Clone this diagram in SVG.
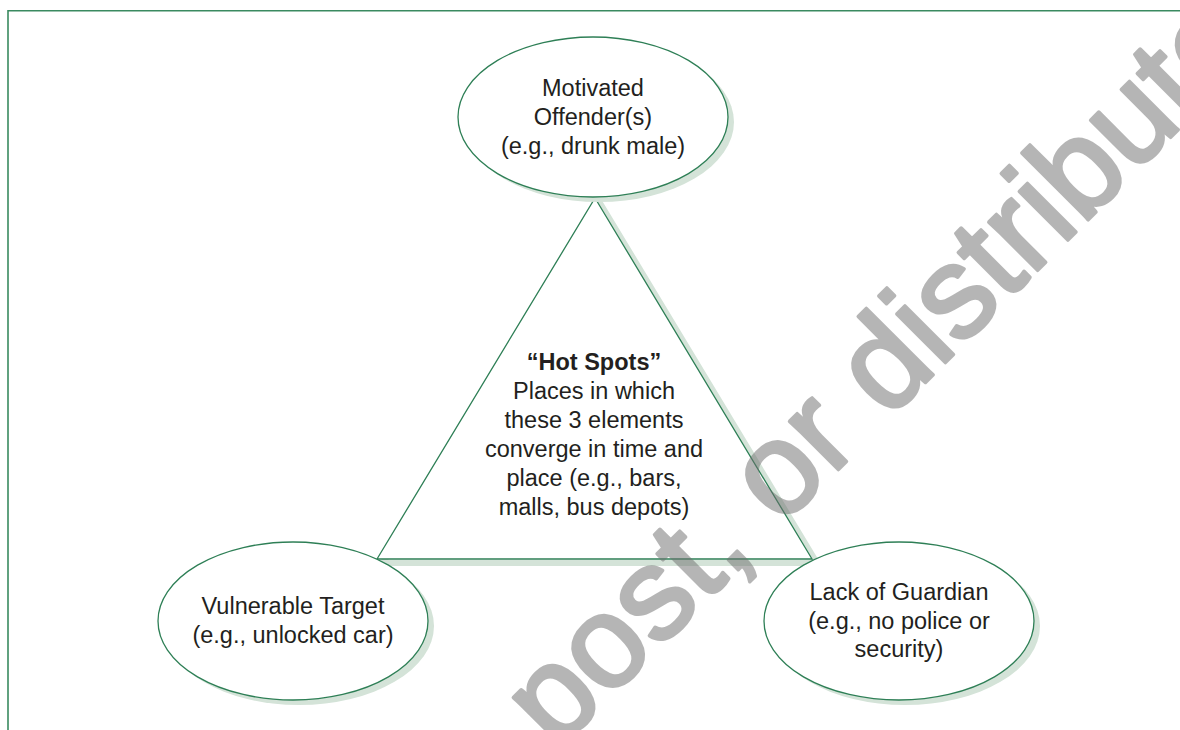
<svg xmlns="http://www.w3.org/2000/svg" width="1180" height="730" viewBox="0 0 1180 730">
  <style>
    .lbl { font-family: "Liberation Sans", Arial, sans-serif; font-size: 23.5px; fill: #231f20; text-anchor: middle; }
    .b { font-weight: bold; }
    .node { fill: #ffffff; stroke: #2e7f56; stroke-width: 1.3; }
    .shadow { fill: #d4e3d8; stroke: none; }
    .wm { font-family: "Liberation Sans", Arial, sans-serif; font-size: 130px; fill: #6e6e6e; stroke: #6e6e6e; stroke-width: 3.5; stroke-linejoin: round; }
  </style>
  <rect width="1180" height="730" fill="#ffffff"/>
  <path d="M8 730 V10.7 H1180" fill="none" stroke="#3a8a60" stroke-width="1.6"/>

  <g id="connectors">
    <polygon points="600,203 817,563 383,563" fill="none" stroke="#d4e3d8" stroke-width="6"/>
    <polygon id="hot-spots-triangle" points="595,198 812,559 377,559" fill="#ffffff" stroke="#2e7f56" stroke-width="1.3"/>
  </g>

  <g id="hot-spots">
    <text class="lbl b" x="594" y="370">“Hot Spots”</text>
    <text class="lbl" x="594" y="399">Places in which</text>
    <text class="lbl" x="594" y="428">these 3 elements</text>
    <text class="lbl" x="594" y="457">converge in time and</text>
    <text class="lbl" x="594" y="486">place (e.g., bars,</text>
    <text class="lbl" x="594" y="515">malls, bus depots)</text>
  </g>

  <g id="motivated-offender">
    <ellipse class="shadow" cx="599" cy="122" rx="135" ry="80"/>
    <ellipse class="node" cx="593" cy="117" rx="135" ry="80"/>
    <text class="lbl" x="593" y="96">Motivated</text>
    <text class="lbl" x="593" y="125">Offender(s)</text>
    <text class="lbl" x="593" y="154">(e.g., drunk male)</text>
  </g>

  <g id="vulnerable-target">
    <ellipse class="shadow" cx="299" cy="626" rx="135" ry="79"/>
    <ellipse class="node" cx="293" cy="621" rx="135" ry="79"/>
    <text class="lbl" x="293" y="614">Vulnerable Target</text>
    <text class="lbl" x="293" y="643">(e.g., unlocked car)</text>
  </g>

  <g id="lack-of-guardian">
    <ellipse class="shadow" cx="905" cy="626" rx="135" ry="79"/>
    <ellipse class="node" cx="899" cy="621" rx="135" ry="79"/>
    <text class="lbl" x="899" y="600">Lack of Guardian</text>
    <text class="lbl" x="899" y="629">(e.g., no police or</text>
    <text class="lbl" x="899" y="657">security)</text>
  </g>

  <g id="watermark" opacity="0.5">
    <text class="wm" transform="translate(556,752) rotate(-45)">post, or distribute</text>
  </g>
</svg>
